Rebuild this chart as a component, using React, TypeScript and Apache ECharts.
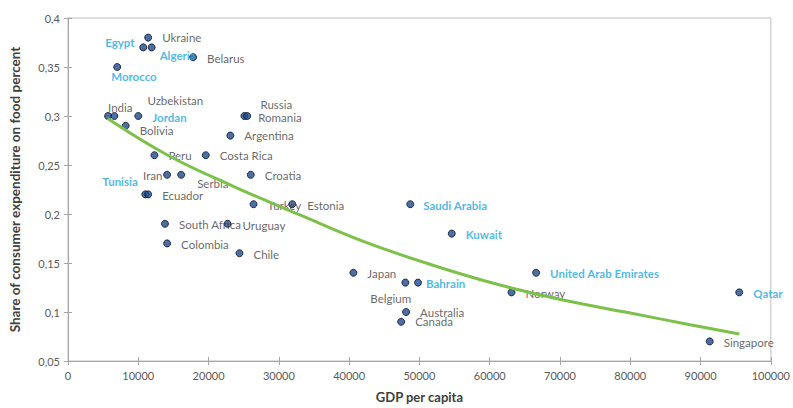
import React, { useEffect, useRef } from "react";
import * as echarts from "echarts";

const countries = [
  "Ukraine", "Egypt", "Algeria", "Belarus", "Morocco", "India", "Uzbekistan", "Jordan", "Bolivia",
  "Russia", "Romania", "Argentina", "Peru", "Costa Rica", "Iran", "Serbia", "Croatia", "Tunisia",
  "Ecuador", "Turkey", "Estonia", "South Africa", "Uruguay", "Colombia", "Chile", "Saudi Arabia",
  "Kuwait", "Japan", "Belgium", "Bahrain", "Australia", "Canada", "United Arab Emirates", "Norway",
  "Qatar", "Singapore",
];
const gdpPerCapita = [
  11400, 10700, 11900, 17800, 7000, 5700, 6600, 10000, 8200,
  25100, 25500, 23100, 12300, 19600, 14100, 16100, 26000, 11000,
  11400, 26400, 31900, 13800, 22700, 14100, 24400, 48700,
  54600, 40600, 48000, 49800, 48100, 47400, 66600, 63100,
  95500, 91300,
];
const foodShare = [
  0.38, 0.37, 0.37, 0.36, 0.35, 0.30, 0.30, 0.30, 0.29,
  0.30, 0.30, 0.28, 0.26, 0.26, 0.24, 0.24, 0.24, 0.22,
  0.22, 0.21, 0.21, 0.19, 0.19, 0.17, 0.16, 0.21,
  0.18, 0.14, 0.13, 0.13, 0.10, 0.09, 0.14, 0.12,
  0.12, 0.07,
];
const highlighted = [
  "Egypt", "Algeria", "Morocco", "Jordan", "Tunisia", "Saudi Arabia", "Kuwait", "Bahrain",
  "United Arab Emirates", "Qatar",
];
// trendline
const trendX = [5640, 14200, 23600, 33000, 42400, 51800, 61200, 70600, 80000, 88500, 95530];
const trendY = [0.2975, 0.26, 0.228, 0.199, 0.171, 0.148, 0.128, 0.112, 0.099, 0.087, 0.0775];

const yTicks = [0.05, 0.1, 0.15, 0.2, 0.25, 0.3, 0.35, 0.4];

// label placement (pixels from dot centre)
const labelOffsets: Record<string, [number, number]> = {
  Ukraine: [14, 0],
  Egypt: [-38, -5],
  Algeria: [8, 8],
  Belarus: [14, 1],
  Morocco: [-6, 9],
  India: [0, -9],
  Uzbekistan: [33, -16],
  Jordan: [14, 1],
  Bolivia: [14, 5],
  Russia: [16, -12],
  Romania: [11, 1],
  Argentina: [14, 0],
  Peru: [14, 0],
  "Costa Rica": [14, 0],
  Iran: [-24, 1],
  Serbia: [16, 9],
  Croatia: [14, 1],
  Tunisia: [-43, -13],
  Ecuador: [14, 1],
  Turkey: [14, 1],
  Estonia: [15, 1],
  "South Africa": [14, 1],
  Uruguay: [15, 2],
  Colombia: [14, 1],
  Chile: [14, 1],
  "Saudi Arabia": [13, 1],
  Kuwait: [14, 1],
  Japan: [14, 1],
  Belgium: [-35, 16],
  Bahrain: [8, 1],
  Australia: [14, 0],
  Canada: [14, 0],
  "United Arab Emirates": [14, 1],
  Norway: [14, 1],
  Qatar: [14, 1],
  Singapore: [14, 1],
};

const FONT = "Lato, 'Open Sans', sans-serif";

export default function App() {
  const ref = useRef<HTMLDivElement>(null);
  useEffect(() => {
    if (!ref.current) return;
    const chart = echarts.init(ref.current, undefined, { renderer: "svg" });
    const scatterData = countries.map((name, i) => {
      const hi = highlighted.includes(name);
      const off = labelOffsets[name] || [14, 0];
      return {
        name,
        value: [gdpPerCapita[i], foodShare[i]],
        label: {
          show: true,
          formatter: name,
          position: "inside",
          align: "left",
          verticalAlign: "middle",
          offset: off,
          color: hi ? "#21A6E2" : "#404040",
          fontWeight: hi ? "bold" : "normal",
          fontSize: 11.5,
          fontFamily: FONT,
        },
      };
    });
    const fmt = (v: number) => String(Math.round(v * 100) / 100).replace(".", ",");
    chart.setOption({
      animation: false,
      backgroundColor: "#ffffff",
      grid: {
        left: 66,
        right: 18,
        top: 18,
        bottom: 44,
        show: true,
        borderColor: "#BFBFBF",
        borderWidth: 1,
        backgroundColor: "transparent",
      },
      xAxis: [
        {
          type: "value",
          min: 0,
          max: 100000,
          interval: 10000,
          name: "GDP per capita",
          nameLocation: "middle",
          nameGap: 29,
          nameTextStyle: { fontFamily: FONT, fontWeight: "bold", fontSize: 13, color: "#404040" },
          axisLine: { show: true, lineStyle: { color: "#A6A6A6", width: 1 } },
          axisTick: { show: true, inside: false, length: 4, lineStyle: { color: "#A6A6A6" } },
          axisLabel: {
            margin: 9,
            fontFamily: FONT,
            fontSize: 11,
            color: "#595959",
            formatter: (v: number) => String(v),
          },
          splitLine: { show: false },
        },
        {
          type: "value",
          min: 0,
          max: 100000,
          interval: 10000,
          position: "bottom",
          axisLine: { show: false },
          axisTick: { show: true, inside: true, length: 4, lineStyle: { color: "#A6A6A6" } },
          axisLabel: { show: false },
          splitLine: { show: false },
        },
      ],
      yAxis: [
        {
          type: "value",
          min: 0.05,
          max: 0.4,
          interval: 0.05,
          name: "Share of consumer expenditure on food percent",
          nameLocation: "middle",
          nameGap: 46,
          nameTextStyle: { fontFamily: FONT, fontWeight: "bold", fontSize: 13.5, color: "#404040" },
          axisLine: { show: true, lineStyle: { color: "#A6A6A6", width: 1 } },
          axisTick: { show: true, inside: false, length: 4, lineStyle: { color: "#A6A6A6" } },
          axisLabel: {
            margin: 8,
            fontFamily: FONT,
            fontSize: 11,
            color: "#595959",
            formatter: (v: number) => fmt(v),
            customValues: yTicks,
          },
          splitLine: { show: false },
        },
        {
          type: "value",
          min: 0.05,
          max: 0.4,
          interval: 0.05,
          position: "left",
          axisLine: { show: false },
          axisTick: { show: true, inside: true, length: 4, lineStyle: { color: "#A6A6A6" } },
          axisLabel: { show: false },
          splitLine: { show: false },
        },
      ],
      series: [
        {
          type: "scatter",
          xAxisIndex: 0,
          yAxisIndex: 0,
          symbol: "circle",
          symbolSize: 7,
          itemStyle: { color: "#1E4B8F", borderColor: "#0B1220", borderWidth: 1 },
          data: scatterData,
          z: 2,
        },
        {
          type: "line",
          xAxisIndex: 0,
          yAxisIndex: 0,
          data: trendX.map((x, i) => [x, trendY[i]]),
          smooth: 0.4,
          showSymbol: false,
          symbol: "none",
          lineStyle: { color: "#7DC14A", width: 3 },
          z: 3,
          silent: true,
        },
      ],
    });
    return () => chart.dispose();
  }, []);
  return (
    <div
      ref={ref}
      style={{ position: "fixed", left: 0, top: 0, width: 793, height: 408, background: "#fff" }}
    />
  );
}
